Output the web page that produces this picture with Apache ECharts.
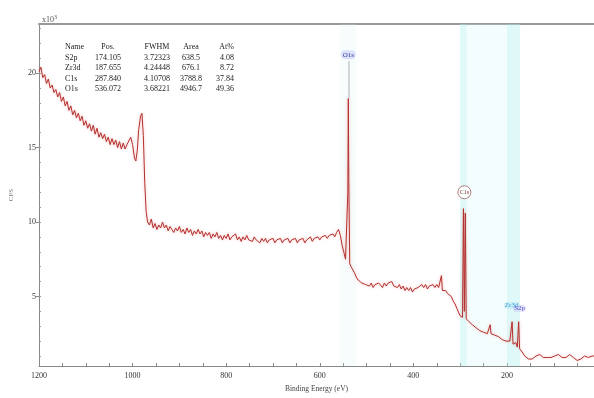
<!DOCTYPE html>
<html>
<head>
<meta charset="utf-8">
<script src="https://cdn.jsdelivr.net/npm/echarts@6/dist/echarts.min.js"></script>
<style>
  html, body { margin: 0; padding: 0; background: #fff; }
  #chart { width: 594px; height: 398px; }
</style>
</head>
<body>
<div id="chart"></div>
<script>
// survey spectrum (binding energy in eV, counts in x10^3 CPS)
const energy = [
  1200, 1196, 1192, 1188, 1184, 1180, 1176, 1172, 1168, 1164, 1160, 1156, 1152, 1148, 1144, 1140,
  1136, 1132, 1128, 1124, 1120, 1116, 1112, 1108, 1104, 1100, 1096, 1092, 1088, 1084, 1080, 1076,
  1072, 1068, 1064, 1060, 1056, 1052, 1048, 1044, 1040, 1036, 1032, 1028, 1024, 1020, 1016, 1012,
  1008, 1004, 1000, 996, 993, 990, 987, 983, 980, 977, 974, 971, 968, 964, 960, 956, 952, 948,
  944, 940, 936, 932, 928, 924, 920, 916, 912, 908, 904, 900, 896, 892, 888, 884, 880, 876, 872,
  868, 864, 860, 856, 852, 848, 844, 840, 836, 832, 828, 824, 820, 816, 812, 808, 804, 800, 796,
  792, 788, 784, 780, 776, 772, 768, 764, 760, 756, 752, 748, 744, 740, 736, 732, 728, 724, 720,
  716, 712, 708, 704, 700, 696, 692, 688, 684, 680, 676, 672, 668, 664, 660, 656, 652, 648, 644,
  640, 636, 632, 628, 624, 620, 616, 612, 608, 604, 600, 596, 592, 588, 584, 580, 576, 572, 568,
  564, 560, 556, 552, 548, 545, 542, 540, 539, 538, 536, 533, 530, 526, 522, 518, 514, 510, 506,
  502, 498, 494, 490, 486, 482, 478, 474, 470, 466, 462, 458, 454, 450, 446, 442, 438, 434, 430,
  426, 422, 418, 414, 410, 406, 402, 398, 394, 390, 386, 382, 378, 374, 370, 366, 362, 358, 354,
  350, 346, 342, 340, 338, 335, 331, 327, 323, 319, 315, 311, 307, 303, 300, 297, 295, 293, 291,
  289, 287, 284, 281, 278, 274, 270, 266, 262, 258, 254, 250, 246, 242, 238, 236, 234, 230, 226,
  222, 218, 214, 210, 206, 202, 198, 194, 191, 189, 187, 184, 181, 178, 175, 173, 170, 166, 162,
  158, 154, 150, 146, 142, 138, 134, 130, 126, 122, 118, 114, 110, 106, 102, 98, 94, 90, 86, 82,
  78, 74, 70, 66, 62, 58, 54, 50, 46, 42, 38, 34, 30, 26, 22, 18, 14
];
const cps = [
  20.1, 20.4, 19.7, 19.9, 19.3, 19.6, 19.0, 19.2, 18.7, 18.9, 18.4, 18.7, 18.1, 18.4, 17.8, 18.1,
  17.5, 17.8, 17.2, 17.5, 17.0, 17.3, 16.8, 17.1, 16.5, 16.8, 16.3, 16.6, 16.1, 16.5, 15.9, 16.3,
  15.7, 16.0, 15.6, 15.9, 15.4, 15.7, 15.2, 15.6, 15.2, 15.5, 15.0, 15.4, 14.9, 15.3, 14.9, 15.2,
  15.1, 15.7, 15.2, 14.3, 14.1, 14.8, 16.2, 17.1, 17.3, 15.8, 12.6, 10.7, 10.0, 9.8, 10.2, 9.6, 9.9, 9.5,
  9.8, 9.6, 10.0, 9.6, 9.8, 9.4, 9.7, 9.5, 9.3, 9.6, 9.4, 9.7, 9.3, 9.5, 9.2, 9.6, 9.3, 9.5, 9.1,
  9.4, 9.2, 9.5, 9.2, 9.4, 9.0, 9.3, 9.1, 9.3, 8.9, 9.2, 9.0, 9.3, 8.9, 9.1, 8.8, 9.1, 8.9, 9.2,
  8.8, 9.0, 8.9, 9.2, 8.8, 9.0, 8.7, 9.0, 8.8, 9.1, 8.8, 8.9, 8.7, 9.0, 8.8, 8.9, 8.6, 8.9, 8.7,
  8.9, 8.6, 8.8, 8.7, 8.9, 8.6, 8.8, 8.7, 8.9, 8.6, 8.8, 8.7, 8.9, 8.6, 8.8, 8.7, 8.9, 8.6, 8.8,
  8.7, 8.9, 8.6, 8.8, 8.8, 9.0, 8.7, 8.9, 8.8, 9.0, 8.8, 9.0, 8.9, 9.1, 8.9, 9.1, 9.0, 9.2, 9.0,
  9.3, 9.5, 9.1, 8.4, 7.9, 7.5, 7.6, 12.0, 18.3, 13.0, 7.2, 7.0, 6.9, 6.6, 6.3, 6.1, 6.2, 5.9, 6.0,
  5.8, 5.9, 5.7, 5.9, 5.6, 5.8, 5.7, 5.9, 5.8, 5.6, 5.9, 5.7, 5.9, 5.8, 6.0, 5.7, 5.8, 5.6, 5.8,
  5.5, 5.7, 5.4, 5.6, 5.4, 5.6, 5.3, 5.5, 5.4, 5.6, 5.5, 5.8, 5.6, 5.8, 5.5, 5.7, 5.6, 5.8, 5.6,
  5.8, 5.6, 5.7, 6.4, 5.4, 5.3, 5.4, 5.2, 5.2, 5.0, 4.7, 4.5, 4.2, 3.9, 3.7, 3.8, 3.6, 10.9, 4.0,
  10.6, 3.5, 3.4, 3.3, 3.2, 3.1, 3.0, 2.9, 2.8, 2.7, 2.8, 2.6, 2.7, 2.5, 2.6, 3.1, 2.5, 2.4, 2.4,
  2.3, 2.3, 2.2, 2.1, 2.2, 2.0, 2.1, 2.0, 2.1, 3.3, 1.8, 1.7, 1.9, 1.6, 3.3, 1.5, 1.4, 1.2, 1.0,
  0.9, 0.8, 0.7, 0.8, 0.9, 1.0, 1.0, 1.1, 1.0, 0.9, 0.8, 0.9, 1.0, 0.9, 0.9, 1.0, 1.0, 1.1, 1.0, 0.9,
  0.8, 0.9, 1.0, 1.1, 1.0, 0.9, 0.8, 0.7, 0.7, 0.8, 0.9, 1.0, 1.0, 0.9, 1.0, 1.0, 1.0
];

// axis marks
const xLabelValues = [1200, 1000, 800, 600, 400, 200];
const xTickValues = [1200, 1150, 1100, 1050, 1000, 950, 900, 850, 800, 750, 700, 650, 600, 550, 500, 450, 400, 350, 300, 250, 200, 150, 100, 50];
const yLabelValues = [5, 10, 15, 20];
const yMinorValues = [1, 2, 3, 4, 5, 6, 7, 8, 9, 10, 11, 12, 13, 14, 15, 16, 17, 18, 19, 20, 21, 22, 23];

// highlighted energy windows
const strongBands = [[300, 286], [200, 172]];
const faintBands = [[286, 200]];
const paleBands = [[556, 522]];

// peak labels
const o1sPeak = [539, 18.3];
const o1sLabelTop = 20.8;
const c1sMark = [291, 12.0];
const zrMark = [190, 4.4];
const sMark = [173, 4.2];

// quantification table
const tableHeader = ["Name", "Pos.", "FWHM", "Area", "At%"];
const tableRows = [
  ["S2p", "174.105", "3.72323", "638.5", "4.08"],
  ["Zr3d", "187.655", "4.24448", "676.1", "8.72"],
  ["C1s", "287.840", "4.10708", "3788.8", "37.84"],
  ["O1s", "536.072", "3.68221", "4946.7", "49.36"]
];

const serif = "Liberation Serif";
const chart = echarts.init(document.getElementById("chart"));

const colX = [65, 108, 157, 191, 234];
const colAlign = ["left", "center", "center", "center", "right"];
const tableText = [];
[tableHeader].concat(tableRows).forEach((row, r) => {
  row.forEach((cell, c) => {
    tableText.push({
      type: "text",
      x: colX[c],
      y: 47 + r * 10.6,
      style: {
        text: cell,
        font: "8px " + serif,
        fill: "#222",
        align: colAlign[c],
        verticalAlign: "middle",
      },
    });
  });
});

const xMin = 14, xMax = 1200, yMin = 0.33, yMax = 23.3;

chart.setOption({
  animation: false,
  title: {
    text: "{a|x10}{b|3}",
    left: 37,
    top: 9,
    textStyle: {
      rich: {
        a: { fontFamily: serif, fontSize: 8, fontWeight: "normal", color: "#555" },
        b: { fontFamily: serif, fontSize: 6, fontWeight: "normal", color: "#555", verticalAlign: "top", padding: [0, 0, 6, 0] },
      },
    },
  },
  grid: { left: 38, right: 0, top: 24, bottom: 30 },
  xAxis: [
    {
      type: "value",
      inverse: true,
      min: xMin,
      max: xMax,
      position: "bottom",
      splitLine: { show: false },
      axisLine: { lineStyle: { color: "#888", width: 1 } },
      axisTick: { inside: true, length: 3, customValues: xTickValues, lineStyle: { color: "#888" } },
      axisLabel: {
        customValues: xLabelValues,
        formatter: v => String(v),
        fontFamily: serif,
        fontSize: 8,
        color: "#333",
        margin: 6,
      },
      name: "Binding Energy (eV)",
      nameLocation: "middle",
      nameGap: 19,
      nameTextStyle: { fontFamily: serif, fontSize: 7.5, color: "#444" },
    },
    {
      type: "value",
      inverse: true,
      min: xMin,
      max: xMax,
      position: "top",
      splitLine: { show: false },
      axisLine: { lineStyle: { color: "#999", width: 2 } },
      axisTick: { show: false },
      axisLabel: { show: false },
    },
  ],
  yAxis: [
    {
      type: "value",
      min: yMin,
      max: yMax,
      splitLine: { show: false },
      axisLine: { show: true, lineStyle: { color: "#888" } },
      axisTick: { show: true, length: 3, customValues: yLabelValues, lineStyle: { color: "#888" } },
      axisLabel: { customValues: yLabelValues, fontFamily: serif, fontSize: 8, color: "#333", margin: 3 },
      name: "CPS",
      nameLocation: "middle",
      nameGap: 24,
      nameRotate: 90,
      nameTextStyle: { fontFamily: serif, fontSize: 7, color: "#777" },
    },
    {
      type: "value",
      min: yMin,
      max: yMax,
      position: "left",
      splitLine: { show: false },
      axisLine: { show: false },
      axisTick: { show: true, inside: true, length: 2, customValues: yMinorValues, lineStyle: { color: "#999" } },
      axisLabel: { show: false },
    },
  ],
  graphic: tableText,
  series: [
    {
      type: "line",
      xAxisIndex: 0,
      yAxisIndex: 0,
      data: energy.map((e, i) => [e, cps[i]]),
      showSymbol: false,
      sampling: "none",
      lineStyle: {
        color: "#b3312e",
        width: 1,
        shadowColor: "rgba(235, 120, 120, 0.55)",
        shadowBlur: 3,
      },
      markArea: {
        silent: true,
        data: strongBands.map(b => [
          { xAxis: b[0], itemStyle: { color: "rgba(175, 238, 238, 0.4)" } },
          { xAxis: b[1] },
        ]).concat(faintBands.map(b => [
          { xAxis: b[0], itemStyle: { color: "rgba(205, 245, 245, 0.22)" } },
          { xAxis: b[1] },
        ])).concat(paleBands.map(b => [
          { xAxis: b[0], itemStyle: { color: "rgba(210, 240, 240, 0.18)" } },
          { xAxis: b[1] },
        ])),
      },
      markLine: {
        silent: true,
        symbol: "none",
        lineStyle: { color: "#c8c8cc", type: "solid", width: 1.5 },
        label: {
          position: "end",
          formatter: "O1s",
          fontFamily: serif,
          fontSize: 7,
          color: "#2b3a9c",
          backgroundColor: "rgba(190, 195, 245, 0.45)",
          borderRadius: 5,
          padding: [1, 2],
          distance: 2,
        },
        data: [[{ coord: o1sPeak }, { coord: [o1sPeak[0], o1sLabelTop] }]],
      },
      markPoint: {
        silent: true,
        data: [
          {
            coord: c1sMark,
            symbol: "circle",
            symbolSize: 13,
            itemStyle: { color: "rgba(255,255,255,0.8)", borderColor: "#b07a7a", borderWidth: 1 },
            label: { show: true, position: "inside", formatter: "C1s", fontFamily: serif, fontSize: 6, color: "#8a3030" },
          },
          {
            coord: zrMark,
            symbol: "circle",
            symbolSize: 1,
            itemStyle: { color: "rgba(0,0,0,0)" },
            label: {
              show: true, position: "inside", formatter: "Zr3d", fontFamily: serif, fontSize: 7, color: "#3f9fd0",
              backgroundColor: "rgba(170, 225, 245, 0.4)", borderRadius: 4, padding: [0, 1],
            },
          },
          {
            coord: sMark,
            symbol: "circle",
            symbolSize: 1,
            itemStyle: { color: "rgba(0,0,0,0)" },
            label: {
              show: true, position: "inside", formatter: "S2p", fontFamily: serif, fontSize: 7, color: "#5050c8",
              backgroundColor: "rgba(200, 190, 245, 0.4)", borderRadius: 4, padding: [0, 1],
            },
          },
        ],
      },
    },
  ],
});
</script>
</body>
</html>
